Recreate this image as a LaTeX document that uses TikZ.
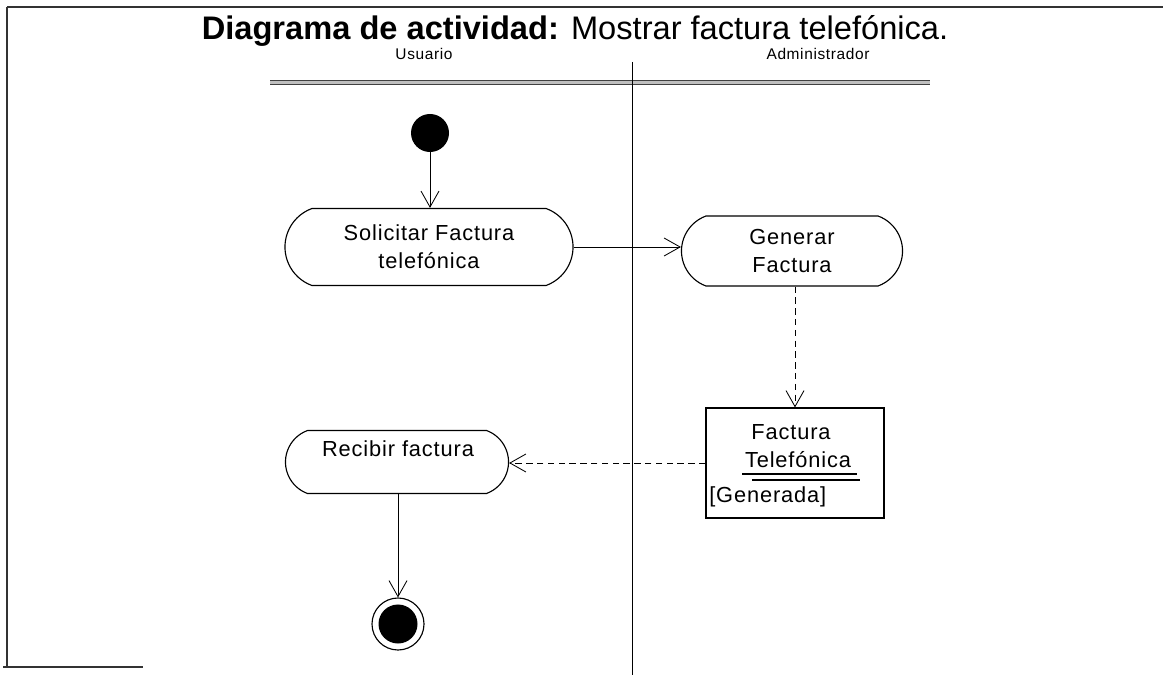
\documentclass[tikz,border=0pt]{standalone}
\usepackage{fontspec}
\setmainfont{Liberation Sans}
\newfontfamily\boxfont[LetterSpace=4]{Liberation Sans}
\usetikzlibrary{shapes.misc,arrows.meta}
\tikzset{
  actbox/.style={rounded rectangle, rounded rectangle arc length=140, draw, line width=0.8pt, inner sep=0pt, align=center, font=\boxfont\fontsize{15.5}{20}\selectfont},
  boxtext/.style={inner sep=0pt, font=\boxfont\fontsize{15.5}{20}\selectfont},
  lanehead/.style={inner sep=0pt, anchor=base, font=\boxfont\fontsize{11}{12}\selectfont},
  flow/.style={line width=0.7pt, -{Straight Barb[length=4mm,width=4.5mm,line width=0.6pt]}},
  dflow/.style={flow, dash pattern=on 1.6mm off 1.1mm},
  frameline/.style={line width=1.4pt, black!80},
}
\begin{document}
\begin{tikzpicture}[x=0.025cm,y=-0.025cm]
\useasboundingbox (0,0) rectangle (1163,675);
% frame
\draw[frameline] (7,7) -- (1163,7);
\draw[frameline] (7,7) -- (7,667);
\draw[frameline] (3,667) -- (143,667);
% title
\node[inner sep=0pt, anchor=base, font=\fontsize{23.2}{26}\selectfont] (title) at (575,40) {\textbf{Diagrama de actividad:} Mostrar factura telefónica.};
% lane headers
\node[lanehead] (usuario) at (424,60) {Usuario};
\node[lanehead] (admin) at (818,60) {Administrador};
\fill[gray!50] (270,80) rectangle (930,84.5);
\draw[black!75, line width=0.6pt] (270,80) -- (930,80);
\draw[black!75, line width=0.6pt] (270,84.5) -- (930,84.5);
\draw[line width=0.6pt] (632,62) -- (632,675);
% nodes
\node[circle, fill=black, minimum size=0.95cm, inner sep=0pt] (init) at (430,133) {};
\node[actbox, minimum width=7.2cm, minimum height=1.925cm] (solicitar) at (429,247) {Solicitar Factura\\telefónica};
\node[actbox, minimum width=5.525cm, minimum height=1.75cm] (generar) at (792,251) {Generar\\Factura};
\node[draw, line width=0.8pt, minimum width=4.45cm, minimum height=2.75cm, inner sep=0pt] (factura) at (795,463) {};
\node[boxtext] (ftxt1) at (791,432) {Factura};
\node[boxtext] (ftxt2) at (798,460) {Telefónica};
\node[boxtext, anchor=west] (ftxt3) at (709,497) {[Generada]};
\draw[line width=0.8pt] (742,474) -- (857,474);
\draw[line width=0.8pt] (752,480) -- (860,480);
\node[actbox, minimum width=5.575cm, minimum height=1.575cm] (recibir) at (397,462) {};
\node[boxtext] (rtxt) at (398,449) {Recibir factura};
\node[circle, draw, line width=0.8pt, minimum size=1.3cm, inner sep=0pt] (final) at (398,624) {};
\node[circle, fill=black, minimum size=0.975cm, inner sep=0pt] (finaldot) at (final) {};
% connectors
\draw[flow] (init) -- (solicitar.north -| init);
\draw[flow] (solicitar.east) -- (generar.west |- solicitar.east);
\draw[dflow] (generar.south -| factura.north) -- (factura.north);
\draw[dflow] (factura.west) -- (recibir.east |- factura.west);
\draw[flow] (recibir.south -| final) -- (final.north);
\end{tikzpicture}
\end{document}
